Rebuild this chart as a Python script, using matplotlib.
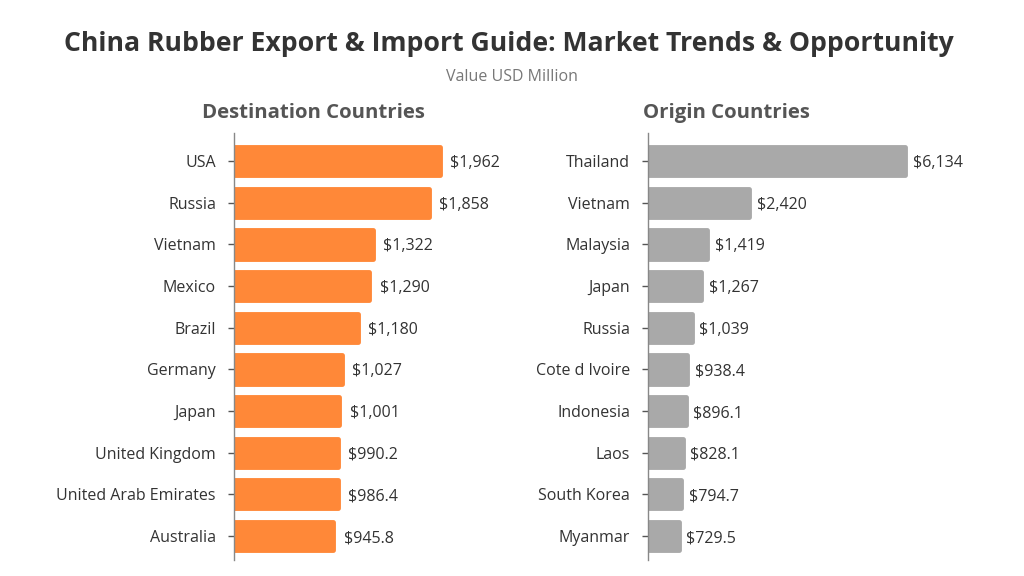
import matplotlib
matplotlib.use("Agg")
import matplotlib.pyplot as plt

plt.rcParams['font.family'] = ['Open Sans', 'DejaVu Sans']

dest_countries = ["USA", "Russia", "Vietnam", "Mexico", "Brazil", "Germany", "Japan",
                  "United Kingdom", "United Arab Emirates", "Australia"]
dest_values = [1962, 1858, 1322, 1290, 1180, 1027, 1001, 990.2, 986.4, 945.8]
dest_labels = ["$1,962", "$1,858", "$1,322", "$1,290", "$1,180", "$1,027", "$1,001",
               "$990.2", "$986.4", "$945.8"]

orig_countries = ["Thailand", "Vietnam", "Malaysia", "Japan", "Russia", "Cote d Ivoire",
                  "Indonesia", "Laos", "South Korea", "Myanmar"]
orig_values = [6134, 2420, 1419, 1267, 1039, 938.4, 896.1, 828.1, 794.7, 729.5]
orig_labels = ["$6,134", "$2,420", "$1,419", "$1,267", "$1,039", "$938.4", "$896.1",
               "$828.1", "$794.7", "$729.5"]

fig = plt.figure(figsize=(10.24, 5.76), dpi=100)
W, H = 1024, 576

def make_ax(left_px, right_px, xmax, cats, vals, labels, color, offset):
    ax = fig.add_axes([left_px / W, 1 - 560 / H, (right_px - left_px) / W, (560 - 133) / H])
    y = list(range(len(cats)))
    ax.barh(y, vals, height=0.68, color=color, edgecolor=color, linewidth=3.5,
            joinstyle='round')
    ax.set_ylim(len(cats) - 1 + 0.576, -0.672)
    ax.set_xlim(0, xmax)
    ax.set_yticks(y)
    ax.set_yticklabels(cats, fontsize=11.5, color='#333333')
    ax.tick_params(axis='y', length=4, width=1, color='#555555', pad=9)
    ax.set_xticks([])
    for s in ['top', 'right', 'bottom']:
        ax.spines[s].set_visible(False)
    ax.spines['left'].set_color('#888888')
    ax.spines['left'].set_linewidth(1)
    for yi, v, lab in zip(y, vals, labels):
        ax.annotate(lab, xy=(v, yi), xytext=(offset, -1.5), textcoords='offset points',
                    va='center', ha='left', fontsize=11.5, color='#333333')
    ax.set_facecolor('none')
    return ax

make_ax(234, 520, 1962 * (520 - 234) / 206, dest_countries, dest_values, dest_labels,
        '#FF8838', 7.5)
make_ax(648, 990, 6134 * (990 - 648) / 257, orig_countries, orig_values, orig_labels,
        '#A9A9A9', 5.5)

fig.text(509 / W, 1 - 44 / H, "China Rubber Export & Import Guide: Market Trends & Opportunity",
         ha='center', va='center', fontsize=19.2, fontweight='bold', color='#333333')
fig.text(512 / W, 1 - 77 / H, "Value USD Million", ha='center', va='center',
         fontsize=11.5, color='#777777')
fig.text(313 / W, 1 - 113 / H, "Destination Countries", ha='center', va='center',
         fontsize=14.7, fontweight='bold', color='#555555')
fig.text(726 / W, 1 - 113 / H, "Origin Countries", ha='center', va='center',
         fontsize=14.7, fontweight='bold', color='#555555')

fig.savefig("out.png", dpi=100, facecolor='white')
